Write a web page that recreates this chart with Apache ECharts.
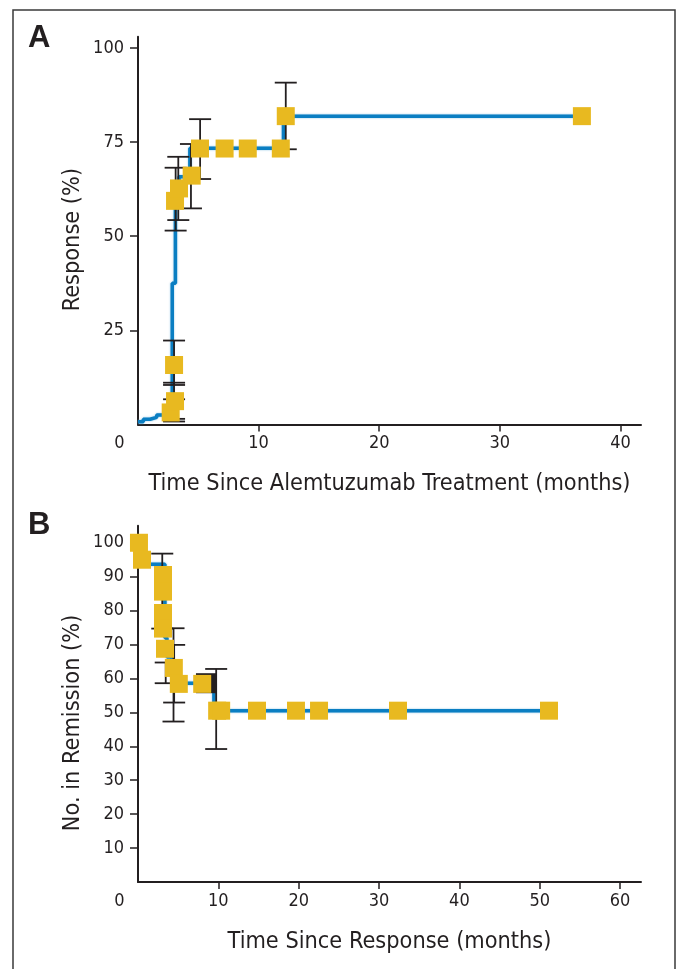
<!DOCTYPE html>
<html><head><meta charset="utf-8">
<script src="https://cdn.jsdelivr.net/npm/echarts@6/dist/echarts.min.js"></script>
<style>html,body{margin:0;padding:0;background:#fff}#c{width:679px;height:969px}</style>
</head><body><div id="c"></div>
<script>
// ---------- Panel A data ----------
const aXTickLabels = [0, 10, 20, 30, 40];
const aXTicks = [10, 20, 30, 40];
const aYTicks = [25, 50, 75, 100];
const aKmT = [0, 0.44, 1.0, 1.55, 2.84, 3.1, 3.4, 4.3, 12.06, 36.8];
const aKmV = [0.7, 1.4, 1.9, 2.5, 37.5, 59.4, 65.8, 73.4, 81.9, 81.9];
const aSqT = [2.71, 3.07, 2.99, 3.07, 3.40, 4.45, 5.14, 7.18, 9.1, 11.84, 12.25, 36.8];
const aSqV = [3.2, 6.2, 15.8, 59.4, 62.7, 66.1, 73.3, 73.3, 73.3, 73.3, 81.9, 81.9];
const aErrT = [2.99, 2.99, 2.99, 3.12, 3.34, 4.39, 5.15, 12.25];
const aErrLo = [10.5, 1.5, 0.8, 51.5, 54.3, 57.4, 65.2, 73.1];
const aErrHi = [22.3, 11.1, 6.7, 68.2, 71.1, 74.5, 81.1, 90.8];

// ---------- Panel B data ----------
const bXTickLabels = [0, 10, 20, 30, 40, 50, 60];
const bXTicks = [10, 20, 30, 40, 50, 60];
const bYTicks = [10, 20, 30, 40, 50, 60, 70, 80, 90, 100];
const bKmT = [0, 0.5, 3.35, 3.6, 4.2, 5.0, 9.45, 51.1];
const bKmV = [100, 93.7, 72, 66.3, 62, 58.6, 50.5, 50.5];
const bSqT = [0.12, 0.5, 3.11, 3.11, 3.11, 3.11, 3.36, 4.46, 5.08, 7.99, 9.85, 10.35, 14.81, 19.66, 22.53, 32.36, 51.15];
const bSqV = [100, 95, 90.5, 85.6, 79.3, 74.7, 68.75, 63.1, 58.4, 58.4, 50.5, 50.5, 50.5, 50.5, 50.5, 50.5, 50.5];
const bBlackT = [8.52];
const bBlackV = [58.6];
const bErrT = [3.02, 4.42, 4.5, 3.45, 9.73];
const bErrLo = [74.7, 47.3, 52.9, 58.6, 39.2];
const bErrHi = [96.8, 74.8, 69.9, 64.7, 62.8];

const INK = '#231f20';
const BLUE = '#0a7ec2';
const GOLD = '#e8b920';
const NARROW = "'Liberation Sans Narrow', 'Arial Narrow', 'DejaVu Sans Condensed', sans-serif";

const zip2 = (a, b) => a.map((v, i) => [v, b[i]]);
const zip3 = (a, b, c) => a.map((v, i) => [v, b[i], c[i]]);

function errRender(params, api) {
  const x = api.value(0), lo = api.value(1), hi = api.value(2);
  const p1 = api.coord([x, lo]), p2 = api.coord([x, hi]);
  const w = 11;
  const style = { stroke: INK, lineWidth: 1.8 };
  return { type: 'group', children: [
    { type: 'line', shape: { x1: p1[0], y1: p1[1], x2: p2[0], y2: p2[1] }, style },
    { type: 'line', shape: { x1: p1[0] - w, y1: p1[1], x2: p1[0] + w, y2: p1[1] }, style },
    { type: 'line', shape: { x1: p2[0] - w, y1: p2[1], x2: p2[0] + w, y2: p2[1] }, style }
  ]};
}

function xAxisCfg(idx, max, labels, ticks, name) {
  return {
    type: 'value', gridIndex: idx, min: 0, max: max,
    name: name, nameLocation: 'middle', nameGap: 48, nameMoveOverlap: false,
    nameTextStyle: { fontFamily: NARROW, fontSize: 23.3, color: INK },
    axisLine: { show: true, lineStyle: { color: INK, width: 2 } },
    axisTick: { show: true, length: 7, customValues: ticks, lineStyle: { color: INK, width: 1.5 } },
    splitLine: { show: false },
    axisLabel: {
      customValues: labels, margin: 10, fontFamily: NARROW, fontSize: 18, color: INK,
      formatter: v => v === 0 ? '{z|0}' : String(v),
      rich: { z: { fontFamily: NARROW, fontSize: 18, color: INK, padding: [0, 37, 0, 0] } }
    }
  };
}
function yAxisCfg(idx, max, ticks, name, shiftPad) {
  return {
    type: 'value', gridIndex: idx, min: 0, max: max,
    name: name, nameLocation: 'middle', nameGap: 54, nameRotate: 90, nameMoveOverlap: false,
    nameTextStyle: { fontFamily: NARROW, fontSize: 23.3, color: INK, padding: [0, shiftPad, 0, 0] },
    axisLine: { show: true, lineStyle: { color: INK, width: 2 } },
    axisTick: { show: true, length: 8, customValues: ticks, lineStyle: { color: INK, width: 1.5 } },
    splitLine: { show: false },
    axisLabel: { customValues: ticks, margin: 14, fontFamily: NARROW, fontSize: 18, color: INK }
  };
}

const chart = echarts.init(document.getElementById('c'), null, { renderer: 'canvas' });
chart.setOption({
  animation: false,
  backgroundColor: '#fff',
  grid: [
    { left: 138, top: 36.7, width: 503, height: 387.8 },
    { left: 138, top: 525.8, width: 503, height: 356.2 }
  ],
  xAxis: [
    xAxisCfg(0, 41.7, aXTickLabels, aXTicks, 'Time Since Alemtuzumab Treatment (months)'),
    xAxisCfg(1, 62.6, bXTickLabels, bXTicks, 'Time Since Response (months)')
  ],
  yAxis: [
    yAxisCfg(0, 103, aYTicks, 'Response (%)', 18),
    yAxisCfg(1, 105, bYTicks, 'No. in Remission (%)', 38)
  ],
  graphic: [
    { type: 'polyline', z: 100, shape: { points: [[13, 990], [13, 10], [675, 10], [675, 990]] },
      style: { stroke: '#3a3a3a', lineWidth: 1.5, fill: null } },
    { type: 'text', x: 28, y: 38, style: { text: 'A', font: "bold 31px 'Liberation Sans', Arial, sans-serif", fill: INK, textVerticalAlign: 'middle', textAlign: 'left' } },
    { type: 'text', x: 28, y: 525, style: { text: 'B', font: "bold 31px 'Liberation Sans', Arial, sans-serif", fill: INK, textVerticalAlign: 'middle', textAlign: 'left' } }
  ],
  series: [
    { type: 'line', xAxisIndex: 0, yAxisIndex: 0, step: 'end', showSymbol: false, z: 2,
      data: zip2(aKmT, aKmV), lineStyle: { color: BLUE, width: 3.5, shadowColor: 'rgba(120,185,225,0.9)', shadowBlur: 2 } },
    { type: 'custom', xAxisIndex: 0, yAxisIndex: 0, z: 3, renderItem: errRender,
      encode: { x: 0, y: [1, 2] }, data: zip3(aErrT, aErrLo, aErrHi) },
    { type: 'scatter', xAxisIndex: 0, yAxisIndex: 0, z: 5, symbol: 'rect', symbolSize: 18,
      itemStyle: { color: GOLD, opacity: 1 }, data: zip2(aSqT, aSqV) },

    { type: 'line', xAxisIndex: 1, yAxisIndex: 1, step: 'end', showSymbol: false, z: 2,
      data: zip2(bKmT, bKmV), lineStyle: { color: BLUE, width: 3.5, shadowColor: 'rgba(120,185,225,0.9)', shadowBlur: 2 } },
    { type: 'custom', xAxisIndex: 1, yAxisIndex: 1, z: 3, renderItem: errRender,
      encode: { x: 0, y: [1, 2] }, data: zip3(bErrT, bErrLo, bErrHi) },
    { type: 'scatter', xAxisIndex: 1, yAxisIndex: 1, z: 4, symbol: 'rect', symbolSize: [21, 20],
      itemStyle: { color: INK, opacity: 1 }, data: zip2(bBlackT, bBlackV) },
    { type: 'scatter', xAxisIndex: 1, yAxisIndex: 1, z: 5, symbol: 'rect', symbolSize: 18,
      itemStyle: { color: GOLD, opacity: 1 }, data: zip2(bSqT, bSqV) }
  ]
});
</script>
</body></html>
